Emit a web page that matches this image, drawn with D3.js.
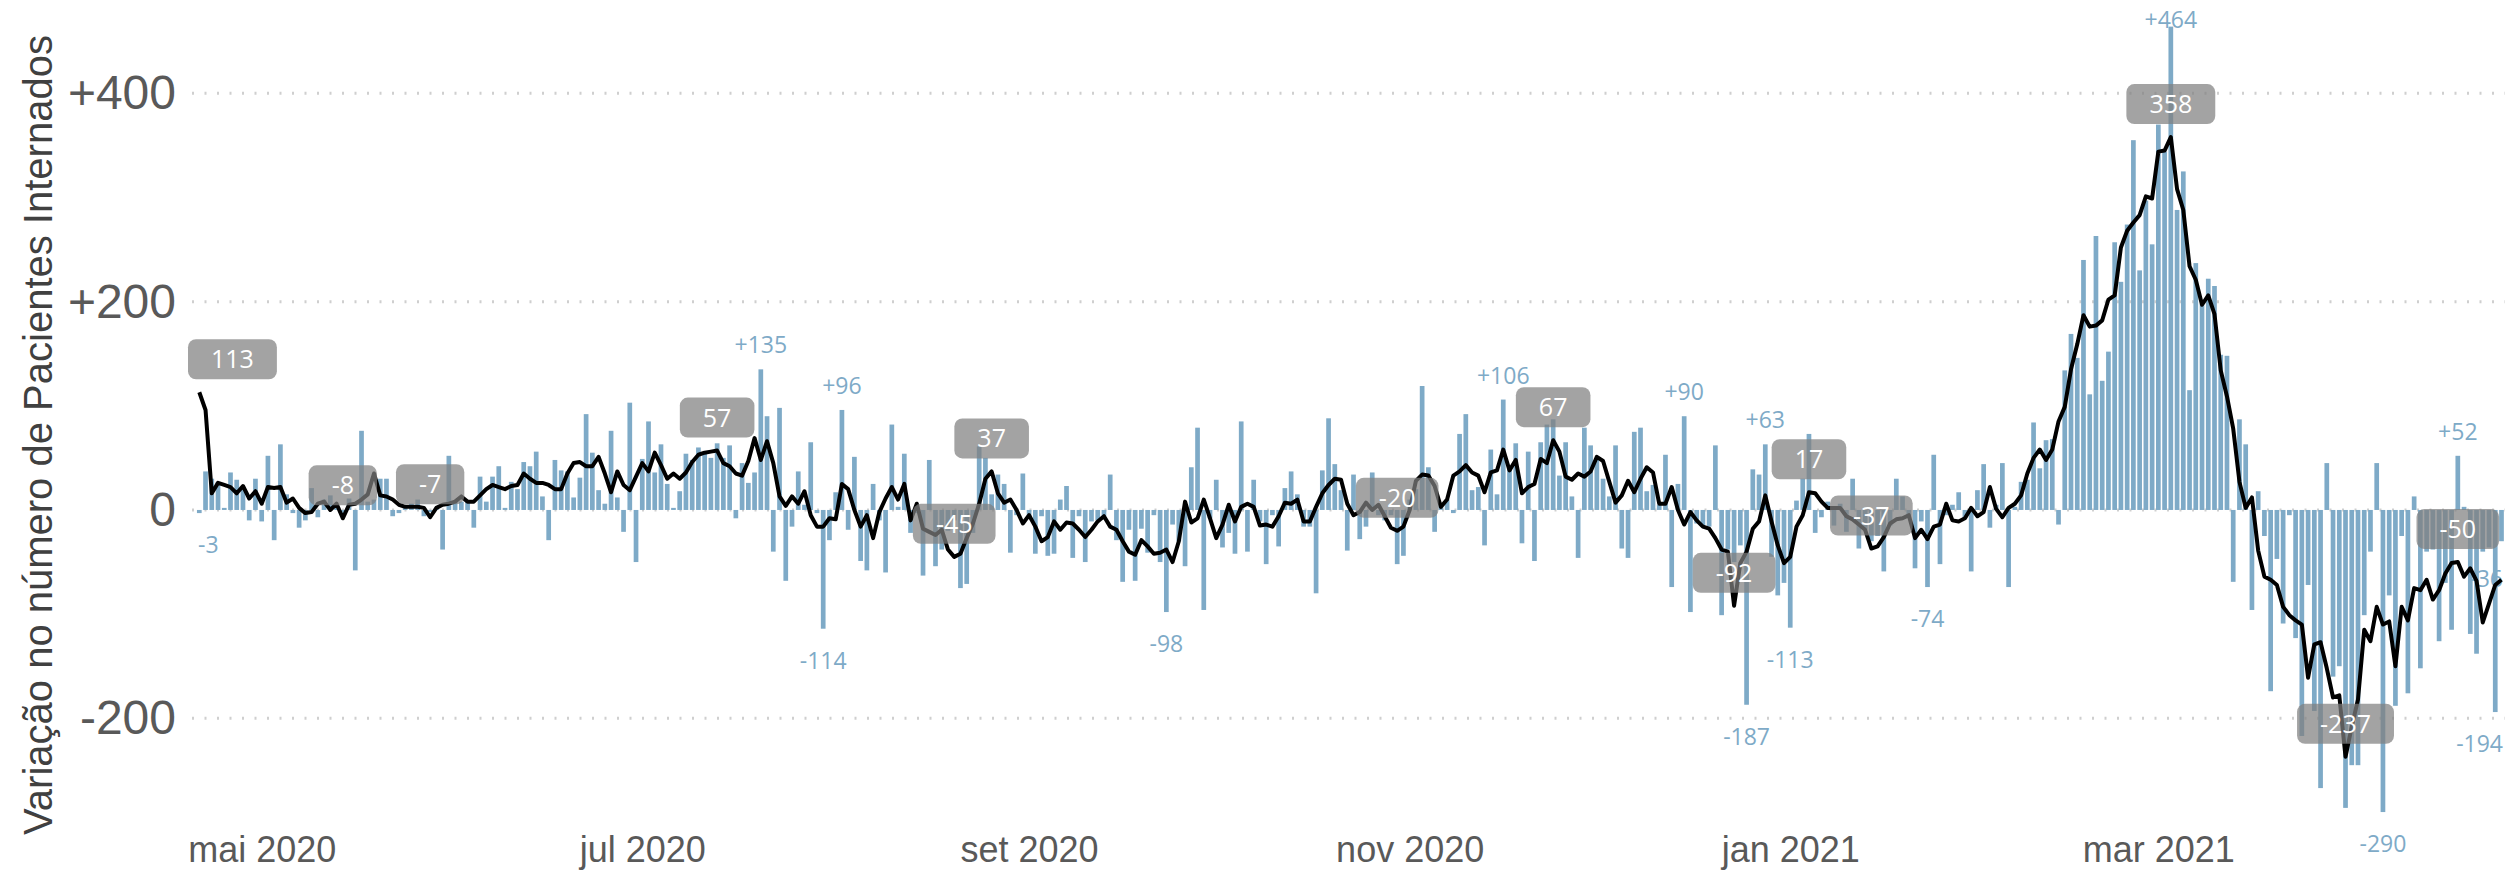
<!DOCTYPE html>
<html>
<head>
<meta charset="utf-8">
<script src="https://cdn.jsdelivr.net/npm/d3@7"></script>
<style>
  body { margin: 0; background: #fff; }
  svg { display: block; }
</style>
</head>
<body>
<svg id="chart" width="2505" height="870"></svg>
<script>
// Daily change in hospitalised patients, one value per day from START_DATE
const START_DATE = "2020-04-21";

const dailyChange = [
  -3, 37, 30, 27, 2, 36, 29, 20, -10, 30,
  -11, 52, -29, 63, 15, -3, -17, -10, 21, -7,
  10, 14, 3, -5, 11, -58, 76, 8, 10, 30,
  30, -6, -3, 2, 6, 10, -6, -2, 2, -38,
  52, 8, 8, 8, -17, 32, 8, 32, 42, 2,
  27, 20, 46, 42, 56, 13, -29, 48, 38, 37,
  12, 31, 92, 55, 19, 6, 76, 12, -21, 103,
  -50, 49, 85, 36, 63, 25, 2, 18, 54, 48,
  60, 54, 50, 64, 50, 62, -8, 45, 26, 36,
  135, 90, -40, 98, -68, -16, 37, 5, 65, -3,
  -114, -29, 17, 96, -19, 51, -49, -58, 25, -10,
  -60, 82, 3, 54, -22, -3, -63, 48, -54, -38,
  -20, -10, -75, -71, -22, 61, 50, 15, 34, 25,
  -41, -5, 35, -8, -42, -6, -44, -42, 10, 23,
  -46, -6, -50, -11, -10, -6, 34, -29, -69, -19,
  -68, -18, -41, -5, -50, -98, -14, -30, -54, 41,
  79, -96, -8, 29, -36, -22, -42, 85, -40, 29,
  -11, -52, -5, -35, 21, 37, 15, -16, -16, -80,
  38, 88, 44, 19, -39, 34, -28, -16, 36, -5,
  -10, -5, -52, -44, 10, 20, 119, 41, -21, 5,
  10, -3, 73, 92, 19, 22, -34, 58, 15, 106,
  42, 64, -32, 56, -49, 65, 82, 87, 33, 65,
  13, -46, 79, 62, 48, 30, 13, 62, -37, -46,
  75, 79, 18, 24, 5, 53, -74, 25, 90, -98,
  -13, -16, -16, 62, -101, -38, -50, -34, -187, 39,
  34, 63, -45, -82, -70, -113, 9, 30, 73, -22,
  -7, 8, -15, 6, -21, 30, -37, -19, -30, -25,
  -59, -15, 30, 13, -6, -56, -11, -74, 53, -52,
  -5, 5, 17, -8, -59, 19, 44, -17, 5, 45,
  -74, 3, 27, 29, 84, 40, 67, 68, -14, 134,
  169, 146, 240, 111, 263, 124, 152, 257, 219, 274,
  355, 230, 297, 255, 370, 344, 464, 288, 325, 115,
  237, 198, 222, 215, 149, 148, -69, 87, 63, -96,
  18, -25, -174, -47, -109, -5, -123, -217, -72, -193,
  -267, 45, -160, -150, -286, -245, -245, -101, -40, 45,
  -290, -82, -188, -25, -176, 13, -152, -40, -38, -126,
  -70, -115, 52, 3, -119, -138, -40, -36, -194, -30
];

// Smoothed trend (black line), same days
const trendLine = [
  113, 96, 16, 26, 24, 22, 16, 23, 11, 18,
  6, 22, 21, 22, 7, 11, 2, -3, -2, 6,
  8, 0, 6, -8, 5, 6, 10, 15, 35, 14,
  13, 10, 5, 3, 3, 3, 2, -7, 2, 5,
  6, 8, 13, 8, 8, 14, 20, 24, 22, 20,
  23, 24, 35, 30, 26, 26, 24, 20, 20, 35,
  45, 46, 42, 42, 51, 35, 17, 37, 24, 19,
  32, 45, 37, 55, 43, 30, 35, 30, 36, 46,
  53, 55, 56, 57, 45, 42, 35, 33, 47, 69,
  48, 66, 45, 13, 4, 13, 6, 18, -5, -16,
  -16, -8, -9, 25, 20, 0, -16, -5, -27, -2,
  11, 22, 10, 25, -10, 6, -18, -21, -24, -19,
  -38, -45, -42, -27, -13, 6, 30, 37, 16, 7,
  10, 0, -13, -5, -16, -30, -26, -11, -19, -12,
  -13, -19, -26, -19, -11, -6, -16, -19, -30, -40,
  -43, -29, -35, -42, -41, -38, -50, -30, 8, -12,
  -8, 10, -8, -27, -14, 5, -11, 3, 6, 3,
  -15, -14, -16, -6, 7, 6, 10, -11, -11, 3,
  16, 24, 30, 29, 6, -5, -2, 7, 0, 5,
  -6, -17, -20, -16, 0, 28, 34, 33, 23, 3,
  10, 33, 37, 43, 36, 33, 17, 36, 38, 58,
  38, 48, 16, 22, 25, 49, 45, 67, 56, 32,
  29, 35, 32, 37, 51, 47, 27, 7, 14, 28,
  17, 30, 41, 36, 6, 6, 22, 0, -14, -2,
  -10, -16, -18, -27, -38, -40, -92, -51, -40, -18,
  -11, 14, -11, -34, -51, -45, -16, -5, 17, 16,
  8, 2, 2, 2, -6, -9, -14, -19, -37, -35,
  -26, -13, -9, -8, -5, -27, -19, -28, -16, -14,
  6, -10, -11, -8, 2, -6, -2, 22, 1, -7,
  2, 6, 14, 35, 50, 58, 48, 58, 85, 99,
  135, 159, 187, 176, 177, 182, 202, 206, 252, 268,
  276, 283, 301, 299, 344, 345, 358, 308, 288, 234,
  221, 197, 206, 188, 134, 109, 78, 27, 2, 12,
  -39, -64, -67, -72, -93, -101, -106, -110, -161, -129,
  -127, -152, -180, -178, -237, -208, -182, -115, -126, -93,
  -110, -107, -150, -93, -106, -75, -77, -67, -86, -77,
  -61, -51, -50, -64, -56, -68, -108, -90, -72, -67
];

// Grey boxes on the trend line: [day index, text]
const trendLabels = [
  [0, "113"], [23, "-8"], [37, "-7"], [83, "57"], [121, "-45"], [127, "37"],
  [192, "-20"], [217, "67"], [246, "-92"], [258, "17"], [268, "-37"],
  [316, "358"], [344, "-237"], [362, "-50"]
];

// Blue value labels on single bars: [day index, text]
const barLabels = [
  [0, "-3"], [90, "+135"], [100, "-114"], [103, "+96"], [155, "-98"],
  [209, "+106"], [238, "+90"], [248, "-187"], [251, "+63"], [255, "-113"],
  [277, "-74"], [316, "+464"], [350, "-290"], [362, "+52"], [367, "-36"],
  [368, "-194"]
];

const yTicks = [400, 200, 0, -200];
const yTickLabels = ["+400", "+200", "0", "-200"];
const xTickDates = ["2020-05-01", "2020-07-01", "2020-09-01", "2020-11-01", "2021-01-01", "2021-03-01"];
const xTickLabels = ["mai 2020", "jul 2020", "set 2020", "nov 2020", "jan 2021", "mar 2021"];

const W = 2505, H = 870;
const plotLeft = 192;
const barColor = "#7eaac7";
const tickFont = "'Liberation Sans', Arial, sans-serif";
const labelFont = "'Open Sans', 'Noto Sans', sans-serif";

const svg = d3.select("#chart");
const parseDay = d3.utcParse("%Y-%m-%d");
const day0 = parseDay(START_DATE);
const dayN = d3.utcDay.offset(day0, dailyChange.length - 1);
const dayOf = (i) => d3.utcDay.offset(day0, i);

const pxPerDay = 6.239;
const x = d3.scaleUtc()
    .domain([day0, dayN])
    .range([199.3, 199.3 + pxPerDay * (dailyChange.length - 1)]);

const y = d3.scaleLinear()
    .domain([-200, 400])
    .range([718.3, 93.3]);

// dotted grid
const grid = svg.append("g");
grid.selectAll("line")
    .data(yTicks)
    .join("line")
    .attr("x1", plotLeft).attr("x2", W)
    .attr("y1", (d) => y(d)).attr("y2", (d) => y(d))
    .attr("stroke", "#cfcfcf")
    .attr("stroke-width", 3)
    .attr("stroke-dasharray", "2,10.5");

// y axis
const yAxisG = svg.append("g")
    .attr("transform", "translate(176,0)")
    .call(d3.axisLeft(y).tickValues(yTicks).tickSize(0).tickPadding(0)
        .tickFormat((d, i) => yTickLabels[i]));
yAxisG.select(".domain").remove();
yAxisG.selectAll("text")
    .style("font-family", tickFont)
    .style("font-size", "48px")
    .style("fill", "#595959");

// x axis (labels kept just inside the bottom edge)
const xAxisG = svg.append("g")
    .attr("transform", "translate(0,836)")
    .call(d3.axisBottom(x).tickValues(xTickDates.map(parseDay)).tickSize(0).tickPadding(0)
        .tickFormat((d, i) => xTickLabels[i]));
xAxisG.select(".domain").remove();
xAxisG.selectAll("text")
    .style("font-family", tickFont)
    .style("font-size", "36px")
    .style("fill", "#595959");

// y title
svg.append("text")
    .attr("transform", "translate(52,435) rotate(-90)")
    .attr("text-anchor", "middle")
    .style("font-family", tickFont)
    .style("font-size", "40px")
    .style("fill", "#404040")
    .text("Variação no número de Pacientes Internados");

// bars
const barW = 4.7;
svg.append("g").selectAll("rect")
    .data(dailyChange)
    .join("rect")
    .attr("x", (d, i) => x(dayOf(i)) - barW / 2)
    .attr("y", (d) => Math.min(y(d), y(0)))
    .attr("width", barW)
    .attr("height", (d) => Math.abs(y(d) - y(0)))
    .attr("fill", barColor);

// blue labels on bars, nudged so they stay inside the picture
const barLabelG = svg.append("g");
barLabels.forEach(([i, txt]) => {
    const v = dailyChange[i];
    const t = barLabelG.append("text")
        .attr("text-anchor", "middle")
        .style("font-family", labelFont)
        .style("font-size", "23px")
        .style("fill", barColor)
        .text(txt);
    const half = t.node().getComputedTextLength() / 2;
    const cx = Math.min(Math.max(x(dayOf(i)), plotLeft + 6 + half), W - 2 - half);
    const ty = v >= 0 ? Math.max(y(v) - 16, 28) : Math.min(y(v) + 40, H - 8);
    t.attr("x", cx).attr("y", ty);
});

// trend line
const line = d3.line()
    .x((d, i) => x(dayOf(i)))
    .y((d) => y(d));
svg.append("path")
    .datum(trendLine)
    .attr("fill", "none")
    .attr("stroke", "#000")
    .attr("stroke-width", 4)
    .attr("stroke-linejoin", "round")
    .attr("d", line);

// grey boxes
const boxG = svg.append("g");
trendLabels.forEach(([i, txt]) => {
    const cx = x(dayOf(i));
    const cy = y(trendLine[i]) - 33;
    const g = boxG.append("g");
    const rect = g.append("rect");
    const t = g.append("text")
        .attr("text-anchor", "middle")
        .attr("dy", "0.36em")
        .style("font-family", labelFont)
        .style("font-size", "25px")
        .style("fill", "#fff")
        .text(txt);
    const tw = t.node().getComputedTextLength();
    const bw = tw + 46, bh = 40;
    const left = Math.max(cx - bw / 2, 188);
    rect.attr("x", left).attr("y", cy - bh / 2)
        .attr("width", bw).attr("height", bh)
        .attr("rx", 8)
        .attr("fill", "#808080")
        .attr("fill-opacity", 0.72);
    t.attr("x", left + bw / 2).attr("y", cy);
});
</script>
</body>
</html>
